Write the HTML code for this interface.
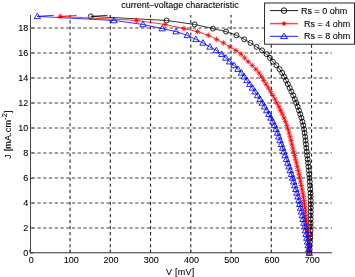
<!DOCTYPE html>
<html><head><meta charset="utf-8"><style>
html,body{margin:0;padding:0;background:#fff;}
svg{display:block;will-change:transform;font-family:"Liberation Sans",sans-serif;font-size:9px;fill:#000;}
text{stroke:#000;stroke-width:0.08px;}
.gv{fill:none;stroke:#222;stroke-width:1.1;stroke-dasharray:3.2 2.85;}
.gh{fill:none;stroke:#444;stroke-width:1;stroke-dasharray:3.3 2.45;}
</style></head><body>
<svg width="355" height="277" viewBox="0 0 355 277">
<rect width="355" height="277" fill="#fff"/>
<clipPath id="ca"><rect x="30" y="14" width="303" height="238.4"/></clipPath>
<path d="M70.05 253.4V15M110.3 253.4V15M150.55 253.4V15M190.8 253.4V15M231.05 253.4V15M271.3 253.4V15M311.55 253.4V15" class="gv" clip-path="url(#ca)"/>
<path d="M31.7 228H332M31.7 203H332M31.7 178H332M31.7 153H332M31.7 128H332M31.7 103H332M31.7 78H332M31.7 53H332M31.7 28H332" class="gh"/>
<path d="M29.8 252.5V249.3M70.05 252.5V249.3M110.3 252.5V249.3M150.55 252.5V249.3M190.8 252.5V249.3M231.05 252.5V249.3M271.3 252.5V249.3M311.55 252.5V249.3M30 253H33.5M30 228H33.5M30 203H33.5M30 178H33.5M30 153H33.5M30 128H33.5M30 103H33.5M30 78H33.5M30 53H33.5M30 28H33.5" stroke="#444" stroke-width="0.9" fill="none"/>
<path d="M107.48 15.36L90.78 16.36L166.57 20.47L194.62 24.46L212.94 28.58L226.02 31.57L236.48 35.31L244.21 39.3L250.49 42.91L256.49 46.9L262.08 50.4L266.71 54.15L269.91 57.9L272.88 61.65L276.43 65.4L279.57 69.15L282.18 72.91L284.12 76.66L285.96 80.41L287.82 84.16L289.68 87.91L291.48 91.67L293.21 95.42L294.82 99.17L296.29 102.92L297.64 106.67L298.97 110.43L300.23 114.18L301.41 117.93L302.45 121.68L303.34 125.43L304.05 129.19L304.62 132.94L305.12 136.69L305.56 140.44L305.96 144.19L306.35 147.95L306.75 151.7L307.17 155.45L307.61 159.2L308.05 162.95L308.48 166.71L308.88 170.46L309.23 174.21L309.52 177.96L309.78 181.71L310.03 185.47L310.26 189.22L310.47 192.97L310.63 196.72L310.72 200.47L310.74 204.22L310.74 207.98L310.72 211.73L310.7 215.48L310.68 219.23L310.64 222.98L310.6 226.74L310.53 230.49L310.38 234.24L310.19 237.99L310 241.74L309.8 245.5L309.58 249.25L309.34 253" stroke="#000" stroke-width="0.8" fill="none"/>
<g fill="none" stroke="#000" stroke-width="0.85"><circle cx="90.78" cy="16.36" r="2.5"/><circle cx="166.57" cy="20.47" r="2.5"/><circle cx="194.62" cy="24.46" r="2.5"/><circle cx="212.94" cy="28.58" r="2.5"/><circle cx="226.02" cy="31.57" r="2.5"/><circle cx="236.48" cy="35.31" r="2.5"/><circle cx="244.21" cy="39.3" r="2.5"/><circle cx="250.49" cy="42.91" r="2.5"/><circle cx="256.49" cy="46.9" r="2.5"/><circle cx="262.08" cy="50.4" r="2.5"/><circle cx="266.71" cy="54.15" r="2.5"/><circle cx="269.91" cy="57.9" r="2.5"/><circle cx="272.88" cy="61.65" r="2.5"/><circle cx="276.43" cy="65.4" r="2.5"/><circle cx="279.57" cy="69.15" r="2.5"/><circle cx="282.18" cy="72.91" r="2.5"/><circle cx="284.12" cy="76.66" r="2.5"/><circle cx="285.96" cy="80.41" r="2.5"/><circle cx="287.82" cy="84.16" r="2.5"/><circle cx="289.68" cy="87.91" r="2.5"/><circle cx="291.48" cy="91.67" r="2.5"/><circle cx="293.21" cy="95.42" r="2.5"/><circle cx="294.82" cy="99.17" r="2.5"/><circle cx="296.29" cy="102.92" r="2.5"/><circle cx="297.64" cy="106.67" r="2.5"/><circle cx="298.97" cy="110.43" r="2.5"/><circle cx="300.23" cy="114.18" r="2.5"/><circle cx="301.41" cy="117.93" r="2.5"/><circle cx="302.45" cy="121.68" r="2.5"/><circle cx="303.34" cy="125.43" r="2.5"/><circle cx="304.05" cy="129.19" r="2.5"/><circle cx="304.62" cy="132.94" r="2.5"/><circle cx="305.12" cy="136.69" r="2.5"/><circle cx="305.56" cy="140.44" r="2.5"/><circle cx="305.96" cy="144.19" r="2.5"/><circle cx="306.35" cy="147.95" r="2.5"/><circle cx="306.75" cy="151.7" r="2.5"/><circle cx="307.17" cy="155.45" r="2.5"/><circle cx="307.61" cy="159.2" r="2.5"/><circle cx="308.05" cy="162.95" r="2.5"/><circle cx="308.48" cy="166.71" r="2.5"/><circle cx="308.88" cy="170.46" r="2.5"/><circle cx="309.23" cy="174.21" r="2.5"/><circle cx="309.52" cy="177.96" r="2.5"/><circle cx="309.78" cy="181.71" r="2.5"/><circle cx="310.03" cy="185.47" r="2.5"/><circle cx="310.26" cy="189.22" r="2.5"/><circle cx="310.47" cy="192.97" r="2.5"/><circle cx="310.63" cy="196.72" r="2.5"/><circle cx="310.72" cy="200.47" r="2.5"/><circle cx="310.74" cy="204.22" r="2.5"/><circle cx="310.74" cy="207.98" r="2.5"/><circle cx="310.72" cy="211.73" r="2.5"/><circle cx="310.7" cy="215.48" r="2.5"/><circle cx="310.68" cy="219.23" r="2.5"/><circle cx="310.64" cy="222.98" r="2.5"/><circle cx="310.6" cy="226.74" r="2.5"/><circle cx="310.53" cy="230.49" r="2.5"/><circle cx="310.38" cy="234.24" r="2.5"/><circle cx="310.19" cy="237.99" r="2.5"/><circle cx="310" cy="241.74" r="2.5"/><circle cx="309.8" cy="245.5" r="2.5"/><circle cx="309.58" cy="249.25" r="2.5"/><circle cx="309.34" cy="253" r="2.5"/></g>
<path d="M76.8 15.36L60.22 16.36L136.54 20.47L165.11 24.46L183.96 28.58L197.43 31.57L208.37 35.31L216.62 39.3L223.36 42.91L229.87 46.9L235.92 50.4L241.03 54.15L244.71 57.9L248.17 61.65L252.21 65.4L255.83 69.15L258.93 72.91L261.35 76.66L263.67 80.41L266.02 84.16L268.36 87.91L270.65 91.67L272.86 95.42L274.96 99.17L276.91 102.92L278.75 106.67L280.56 110.43L282.31 114.18L283.97 117.93L285.5 121.68L286.87 125.43L288.06 129.19L289.12 132.94L290.1 136.69L291.03 140.44L291.91 144.19L292.79 147.95L293.67 151.7L294.58 155.45L295.5 159.2L296.43 162.95L297.34 166.71L298.22 170.46L299.06 174.21L299.83 177.96L300.57 181.71L301.31 185.47L302.03 189.22L302.72 192.97L303.36 196.72L303.94 200.47L304.45 204.22L304.92 207.98L305.4 211.73L305.86 215.48L306.31 219.23L306.76 222.98L307.21 226.74L307.62 230.49L307.96 234.24L308.25 237.99L308.55 241.74L308.83 245.5L309.09 249.25L309.34 253" stroke="#f00" stroke-width="0.8" fill="none"/>
<path fill="none" stroke="#f00" stroke-width="0.8" d="M57.47 16.36H62.97M60.22 13.61V19.11M58.24 14.38L62.2 18.34M58.24 18.34L62.2 14.38M133.79 20.47H139.29M136.54 17.72V23.22M134.56 18.49L138.52 22.45M134.56 22.45L138.52 18.49M162.36 24.46H167.86M165.11 21.71V27.21M163.13 22.48L167.09 26.44M163.13 26.44L167.09 22.48M181.21 28.58H186.71M183.96 25.83V31.33M181.98 26.6L185.94 30.56M181.98 30.56L185.94 26.6M194.68 31.57H200.18M197.43 28.82V34.32M195.45 29.59L199.41 33.55M195.45 33.55L199.41 29.59M205.62 35.31H211.12M208.37 32.56V38.06M206.39 33.33L210.35 37.29M206.39 37.29L210.35 33.33M213.87 39.3H219.37M216.62 36.55V42.05M214.64 37.32L218.6 41.28M214.64 41.28L218.6 37.32M220.61 42.91H226.11M223.36 40.16V45.66M221.38 40.93L225.34 44.89M221.38 44.89L225.34 40.93M227.12 46.9H232.62M229.87 44.15V49.65M227.89 44.92L231.85 48.88M227.89 48.88L231.85 44.92M233.17 50.4H238.67M235.92 47.65V53.15M233.94 48.42L237.9 52.38M233.94 52.38L237.9 48.42M238.28 54.15H243.78M241.03 51.4V56.9M239.05 52.17L243.01 56.13M239.05 56.13L243.01 52.17M241.96 57.9H247.46M244.71 55.15V60.65M242.73 55.92L246.69 59.88M242.73 59.88L246.69 55.92M245.42 61.65H250.92M248.17 58.9V64.4M246.19 59.67L250.15 63.63M246.19 63.63L250.15 59.67M249.46 65.4H254.96M252.21 62.65V68.15M250.23 63.42L254.19 67.38M250.23 67.38L254.19 63.42M253.08 69.15H258.58M255.83 66.4V71.9M253.85 67.17L257.81 71.13M253.85 71.13L257.81 67.17M256.18 72.91H261.68M258.93 70.16V75.66M256.95 70.93L260.91 74.89M256.95 74.89L260.91 70.93M258.6 76.66H264.1M261.35 73.91V79.41M259.37 74.68L263.33 78.64M259.37 78.64L263.33 74.68M260.92 80.41H266.42M263.67 77.66V83.16M261.69 78.43L265.65 82.39M261.69 82.39L265.65 78.43M263.27 84.16H268.77M266.02 81.41V86.91M264.04 82.18L268 86.14M264.04 86.14L268 82.18M265.61 87.91H271.11M268.36 85.16V90.66M266.38 85.93L270.34 89.89M266.38 89.89L270.34 85.93M267.9 91.67H273.4M270.65 88.92V94.42M268.67 89.69L272.63 93.65M268.67 93.65L272.63 89.69M270.11 95.42H275.61M272.86 92.67V98.17M270.88 93.44L274.84 97.4M270.88 97.4L274.84 93.44M272.21 99.17H277.71M274.96 96.42V101.92M272.98 97.19L276.94 101.15M272.98 101.15L276.94 97.19M274.16 102.92H279.66M276.91 100.17V105.67M274.93 100.94L278.89 104.9M274.93 104.9L278.89 100.94M276 106.67H281.5M278.75 103.92V109.42M276.77 104.69L280.73 108.65M276.77 108.65L280.73 104.69M277.81 110.43H283.31M280.56 107.68V113.18M278.58 108.45L282.54 112.41M278.58 112.41L282.54 108.45M279.56 114.18H285.06M282.31 111.43V116.93M280.33 112.2L284.29 116.16M280.33 116.16L284.29 112.2M281.22 117.93H286.72M283.97 115.18V120.68M281.99 115.95L285.95 119.91M281.99 119.91L285.95 115.95M282.75 121.68H288.25M285.5 118.93V124.43M283.52 119.7L287.48 123.66M283.52 123.66L287.48 119.7M284.12 125.43H289.62M286.87 122.68V128.18M284.89 123.45L288.85 127.41M284.89 127.41L288.85 123.45M285.31 129.19H290.81M288.06 126.44V131.94M286.08 127.21L290.04 131.17M286.08 131.17L290.04 127.21M286.37 132.94H291.87M289.12 130.19V135.69M287.14 130.96L291.1 134.92M287.14 134.92L291.1 130.96M287.35 136.69H292.85M290.1 133.94V139.44M288.12 134.71L292.08 138.67M288.12 138.67L292.08 134.71M288.28 140.44H293.78M291.03 137.69V143.19M289.05 138.46L293.01 142.42M289.05 142.42L293.01 138.46M289.16 144.19H294.66M291.91 141.44V146.94M289.93 142.21L293.89 146.17M289.93 146.17L293.89 142.21M290.04 147.95H295.54M292.79 145.2V150.7M290.81 145.97L294.77 149.93M290.81 149.93L294.77 145.97M290.92 151.7H296.42M293.67 148.95V154.45M291.69 149.72L295.65 153.68M291.69 153.68L295.65 149.72M291.83 155.45H297.33M294.58 152.7V158.2M292.6 153.47L296.56 157.43M292.6 157.43L296.56 153.47M292.75 159.2H298.25M295.5 156.45V161.95M293.52 157.22L297.48 161.18M293.52 161.18L297.48 157.22M293.68 162.95H299.18M296.43 160.2V165.7M294.45 160.97L298.41 164.93M294.45 164.93L298.41 160.97M294.59 166.71H300.09M297.34 163.96V169.46M295.36 164.73L299.32 168.69M295.36 168.69L299.32 164.73M295.47 170.46H300.97M298.22 167.71V173.21M296.24 168.48L300.2 172.44M296.24 172.44L300.2 168.48M296.31 174.21H301.81M299.06 171.46V176.96M297.08 172.23L301.04 176.19M297.08 176.19L301.04 172.23M297.08 177.96H302.58M299.83 175.21V180.71M297.85 175.98L301.81 179.94M297.85 179.94L301.81 175.98M297.82 181.71H303.32M300.57 178.96V184.46M298.59 179.73L302.55 183.69M298.59 183.69L302.55 179.73M298.56 185.47H304.06M301.31 182.72V188.22M299.33 183.49L303.29 187.44M299.33 187.44L303.29 183.49M299.28 189.22H304.78M302.03 186.47V191.97M300.05 187.24L304.01 191.2M300.05 191.2L304.01 187.24M299.97 192.97H305.47M302.72 190.22V195.72M300.74 190.99L304.7 194.95M300.74 194.95L304.7 190.99M300.61 196.72H306.11M303.36 193.97V199.47M301.38 194.74L305.34 198.7M301.38 198.7L305.34 194.74M301.19 200.47H306.69M303.94 197.72V203.22M301.96 198.49L305.92 202.45M301.96 202.45L305.92 198.49M301.7 204.22H307.2M304.45 201.47V206.97M302.47 202.24L306.43 206.2M302.47 206.2L306.43 202.24M302.17 207.98H307.67M304.92 205.23V210.73M302.94 206L306.9 209.96M302.94 209.96L306.9 206M302.65 211.73H308.15M305.4 208.98V214.48M303.42 209.75L307.38 213.71M303.42 213.71L307.38 209.75M303.11 215.48H308.61M305.86 212.73V218.23M303.88 213.5L307.84 217.46M303.88 217.46L307.84 213.5M303.56 219.23H309.06M306.31 216.48V221.98M304.33 217.25L308.29 221.21M304.33 221.21L308.29 217.25M304.01 222.98H309.51M306.76 220.23V225.73M304.78 221L308.74 224.96M304.78 224.96L308.74 221M304.46 226.74H309.96M307.21 223.99V229.49M305.23 224.76L309.19 228.72M305.23 228.72L309.19 224.76M304.87 230.49H310.37M307.62 227.74V233.24M305.64 228.51L309.6 232.47M305.64 232.47L309.6 228.51M305.21 234.24H310.71M307.96 231.49V236.99M305.98 232.26L309.94 236.22M305.98 236.22L309.94 232.26M305.5 237.99H311M308.25 235.24V240.74M306.27 236.01L310.23 239.97M306.27 239.97L310.23 236.01M305.8 241.74H311.3M308.55 238.99V244.49M306.57 239.76L310.53 243.72M306.57 243.72L310.53 239.76M306.08 245.5H311.58M308.83 242.75V248.25M306.85 243.52L310.81 247.48M306.85 247.48L310.81 243.52M306.34 249.25H311.84M309.09 246.5V252M307.11 247.27L311.07 251.23M307.11 251.23L311.07 247.27M306.59 253H312.09M309.34 250.25V255.75M307.36 251.02L311.32 254.98M307.36 254.98L311.32 251.02"/>
<path d="M53.78 15.36L37.3 16.36L114.02 20.47L142.98 24.46L162.22 28.58L175.98 31.57L187.29 35.31L195.92 39.3L203.02 42.91L209.91 46.9L216.3 50.4L221.77 54.15L225.82 57.9L229.64 61.65L234.04 65.4L238.03 69.15L241.48 72.91L244.27 76.66L246.95 80.41L249.67 84.16L252.37 87.91L255.02 91.67L257.6 95.42L260.06 99.17L262.37 102.92L264.58 106.67L266.75 110.43L268.86 114.18L270.88 117.93L272.78 121.68L274.52 125.43L276.07 129.19L277.49 132.94L278.84 136.69L280.12 140.44L281.38 144.19L282.61 147.95L283.86 151.7L285.13 155.45L286.42 159.2L287.71 162.95L288.98 166.71L290.23 170.46L291.43 174.21L292.56 177.96L293.67 181.71L294.77 185.47L295.85 189.22L296.9 192.97L297.91 196.72L298.85 200.47L299.72 204.22L300.56 207.98L301.4 211.73L302.22 215.48L303.04 219.23L303.86 222.98L304.66 226.74L305.44 230.49L306.14 234.24L306.8 237.99L307.46 241.74L308.1 245.5L308.73 249.25L309.34 253" stroke="#00f" stroke-width="0.8" fill="none"/>
<path fill="none" stroke="#00f" stroke-width="0.85" d="M37.3 13.16L40.5 18.66H34.1ZM114.02 17.27L117.22 22.77H110.82ZM142.98 21.26L146.18 26.76H139.78ZM162.22 25.38L165.42 30.88H159.02ZM175.98 28.37L179.18 33.87H172.78ZM187.29 32.11L190.49 37.61H184.09ZM195.92 36.1L199.12 41.6H192.72ZM203.02 39.71L206.22 45.21H199.82ZM209.91 43.7L213.11 49.2H206.71ZM216.3 47.2L219.5 52.7H213.1ZM221.77 50.95L224.97 56.45H218.57ZM225.82 54.7L229.02 60.2H222.62ZM229.64 58.45L232.84 63.95H226.44ZM234.04 62.2L237.24 67.7H230.84ZM238.03 65.95L241.23 71.45H234.83ZM241.48 69.71L244.68 75.21H238.28ZM244.27 73.46L247.47 78.96H241.07ZM246.95 77.21L250.15 82.71H243.75ZM249.67 80.96L252.87 86.46H246.47ZM252.37 84.71L255.57 90.21H249.17ZM255.02 88.47L258.22 93.97H251.82ZM257.6 92.22L260.8 97.72H254.4ZM260.06 95.97L263.26 101.47H256.86ZM262.37 99.72L265.57 105.22H259.17ZM264.58 103.47L267.78 108.97H261.38ZM266.75 107.23L269.95 112.73H263.55ZM268.86 110.98L272.06 116.48H265.66ZM270.88 114.73L274.08 120.23H267.68ZM272.78 118.48L275.98 123.98H269.58ZM274.52 122.23L277.72 127.73H271.32ZM276.07 125.99L279.27 131.49H272.87ZM277.49 129.74L280.69 135.24H274.29ZM278.84 133.49L282.04 138.99H275.64ZM280.12 137.24L283.32 142.74H276.92ZM281.38 140.99L284.58 146.49H278.18ZM282.61 144.75L285.81 150.25H279.41ZM283.86 148.5L287.06 154H280.66ZM285.13 152.25L288.33 157.75H281.93ZM286.42 156L289.62 161.5H283.22ZM287.71 159.75L290.91 165.25H284.51ZM288.98 163.51L292.18 169.01H285.78ZM290.23 167.26L293.43 172.76H287.03ZM291.43 171.01L294.63 176.51H288.23ZM292.56 174.76L295.76 180.26H289.36ZM293.67 178.51L296.87 184.01H290.47ZM294.77 182.27L297.97 187.77H291.57ZM295.85 186.02L299.05 191.52H292.65ZM296.9 189.77L300.1 195.27H293.7ZM297.91 193.52L301.11 199.02H294.71ZM298.85 197.27L302.05 202.77H295.65ZM299.72 201.02L302.92 206.52H296.52ZM300.56 204.78L303.76 210.28H297.36ZM301.4 208.53L304.6 214.03H298.2ZM302.22 212.28L305.42 217.78H299.02ZM303.04 216.03L306.24 221.53H299.84ZM303.86 219.78L307.06 225.28H300.66ZM304.66 223.54L307.86 229.04H301.46ZM305.44 227.29L308.64 232.79H302.24ZM306.14 231.04L309.34 236.54H302.94ZM306.8 234.79L310 240.29H303.6ZM307.46 238.54L310.66 244.04H304.26ZM308.1 242.3L311.3 247.8H304.9ZM308.73 246.05L311.93 251.55H305.53ZM309.34 249.8L312.54 255.3H306.14Z"/>
<path d="M30.5 15V252.5" stroke="#444" stroke-width="1" fill="none"/>
<path d="M30 252.75H332" stroke="#333" stroke-width="1" fill="none"/>
<text x="31.2" y="262.8" text-anchor="middle">0</text>
<text x="71.25" y="262.8" text-anchor="middle">100</text>
<text x="111.1" y="262.8" text-anchor="middle">200</text>
<text x="151.25" y="262.8" text-anchor="middle">300</text>
<text x="191.4" y="262.8" text-anchor="middle">400</text>
<text x="231.65" y="262.8" text-anchor="middle">500</text>
<text x="271.9" y="262.8" text-anchor="middle">600</text>
<text x="312.15" y="262.8" text-anchor="middle">700</text>
<text x="28.3" y="255.8" text-anchor="end">0</text>
<text x="28.3" y="230.8" text-anchor="end">2</text>
<text x="28.3" y="205.8" text-anchor="end">4</text>
<text x="28.3" y="180.8" text-anchor="end">6</text>
<text x="28.3" y="155.8" text-anchor="end">8</text>
<text x="28.3" y="130.8" text-anchor="end">10</text>
<text x="28.3" y="105.8" text-anchor="end">12</text>
<text x="28.3" y="80.8" text-anchor="end">14</text>
<text x="28.3" y="55.8" text-anchor="end">16</text>
<text x="28.3" y="30.8" text-anchor="end">18</text>
<text x="180.3" y="274.6" text-anchor="middle" letter-spacing="0.25">V [mV]</text>
<text transform="translate(10.8 134.5) rotate(-90)" text-anchor="middle" letter-spacing="0.15">J [mA.cm<tspan dy="-3.8" font-size="7.5">-2</tspan><tspan dy="3.8">]</tspan></text>
<text x="180" y="8" text-anchor="middle">current–voltage characteristic</text>
<rect x="264.6" y="3" width="89.9" height="41.2" fill="#fff" stroke="#111" stroke-width="0.9"/>
<path d="M270 10.6H298" stroke="#000" stroke-width="0.9"/>
<circle cx="284" cy="10.6" r="2.8" fill="none" stroke="#000" stroke-width="0.9"/>
<text x="301" y="13.7">Rs = 0 ohm</text>
<path d="M270 23.6H298" stroke="#f44" stroke-width="1.5"/>
<circle cx="284" cy="23.6" r="1.6" fill="#f00"/>
<path d="M281.8 23.6H286.2M284 21.4V25.8M282.42 22.02L285.58 25.18M282.42 25.18L285.58 22.02" stroke="#f00" stroke-width="0.8"/>
<text x="304" y="26.7">Rs = 4 ohm</text>
<path d="M270 36.3H298" stroke="#00f" stroke-width="0.9"/>
<path d="M284 33.1L287.5 38.6H280.5Z" fill="none" stroke="#00f" stroke-width="0.9"/>
<text x="304" y="39.4">Rs = 8 ohm</text>
</svg></body></html>
